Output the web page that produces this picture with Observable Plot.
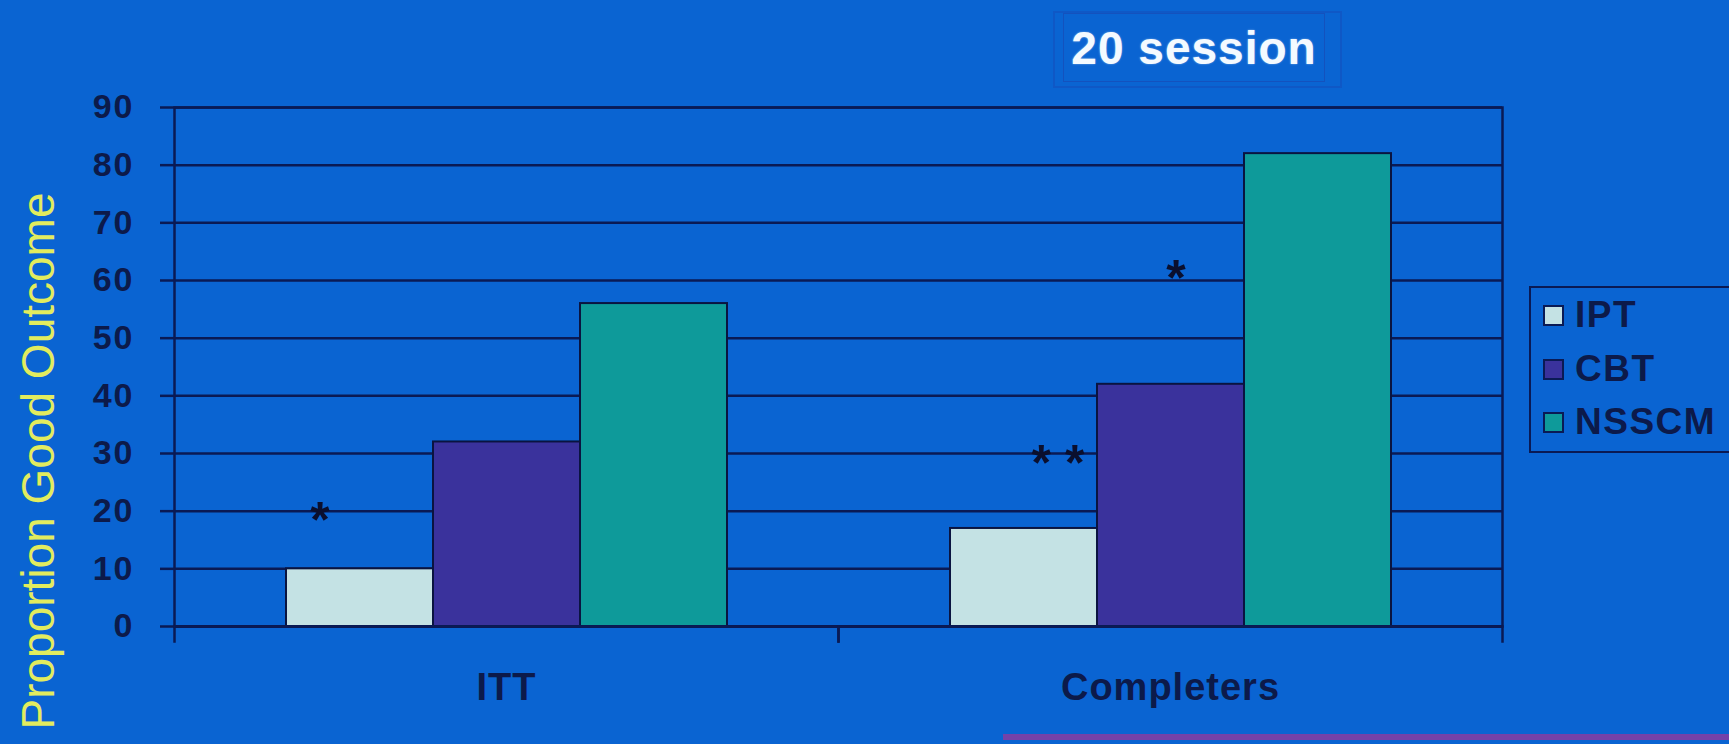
<!DOCTYPE html>
<html>
<head>
<meta charset="utf-8">
<script src="https://cdn.jsdelivr.net/npm/d3@7"></script>
<script src="https://cdn.jsdelivr.net/npm/@observablehq/plot@0.6"></script>
<style>
  html, body {
    margin: 0; padding: 0;
    width: 1729px; height: 744px; overflow: hidden;
    background: #0A64D2;
    font-family: "Liberation Sans", Arial, sans-serif;
  }
  #chart { position: absolute; left: 0; top: 0; }
  #title {
    position: absolute; left: 1053px; top: 11px; width: 289px; height: 77px;
    box-sizing: border-box; border: 2px solid #0F58C6;
  }
  #title .inner {
    position: absolute; left: 8px; top: 0; right: 15px; bottom: 4px;
    border: 1px solid #1352BE;
    color: #F4FAFF; font-weight: bold; font-size: 46px; letter-spacing: 1px;
    display: flex; align-items: center; justify-content: center;
    text-shadow: 0 0 2px rgba(255,255,255,0.5);
  }
  #legend {
    position: absolute; left: 1529px; top: 286px; width: 260px; height: 167px;
    box-sizing: border-box; border: 2.5px solid #0A1A55;
  }
  #legend .item {
    position: absolute; left: 12px; height: 40px;
    display: flex; align-items: center;
    font-weight: bold; font-size: 37px; color: #0C1A4A; letter-spacing: 1.5px;
  }
  #legend .swatch {
    width: 21px; height: 21px; box-sizing: border-box;
    border: 2px solid #0A1A55; margin-right: 11px;
  }
  #footer-line {
    position: absolute; left: 1003px; top: 734px; width: 726px; height: 6px;
    background: #7442A8;
  }
  g[aria-label="y-axis tick label"] text { letter-spacing: 2px; }
  g[aria-label="fx-axis tick label"] text { letter-spacing: 1px; }
</style>
</head>
<body>
<div id="chart"></div>
<div id="title"><div class="inner">20 session</div></div>
<div id="legend"></div>
<div id="footer-line"></div>
<script>
// Groups on the horizontal axis and the three treatments within each group
const groups = ["ITT", "Completers"];
const series = ["IPT", "CBT", "NSSCM"];
const ittValues = [10, 32, 56];
const completerValues = [17, 42, 82];
const seriesColors = ["#C4E2E4", "#3A329C", "#0E9A9A"];
const yTicks = [0, 10, 20, 30, 40, 50, 60, 70, 80, 90];
const yTitle = "Proportion Good Outcome";

// Significance markers
const annGroup = ["ITT", "Completers", "Completers"];
const annSeries = ["IPT", "IPT", "CBT"];
const annValue = [20, 30, 62];
const annText = ["*", "* *", "*"];

const rows = [
  ...series.map((s, i) => ({group: groups[0], series: s, value: ittValues[i]})),
  ...series.map((s, i) => ({group: groups[1], series: s, value: completerValues[i]}))
];

const navy = "#0A1A55";
const labelInk = "#0C1A4A";

// horizontal nudges for the markers, relative to their bar
const annDx = [-40, 34, 5];

const starMarks = annGroup.map((g, i) =>
  Plot.text([i], {
    fx: () => g,
    x: () => annSeries[i],
    y: () => annValue[i],
    text: () => annText[i],
    dx: annDx[i],
    dy: 10,
    fontSize: 50,
    fontWeight: "bold",
    fill: "#0A0F2E"
  })
);

const chart = Plot.plot({
  width: 1729,
  height: 744,
  marginLeft: 173,
  marginRight: 227,
  marginTop: 107,
  marginBottom: 118,
  style: {background: "transparent", fontFamily: "'Liberation Sans', Arial, sans-serif"},
  fx: {domain: groups, padding: 0, label: null},
  x: {domain: series, paddingInner: 0, paddingOuter: 0.75, axis: null},
  y: {domain: [0, 90], label: null},
  color: {domain: series, range: seriesColors},
  marks: [
    Plot.gridY(yTicks, {stroke: navy, strokeOpacity: 1, strokeWidth: 2.5}),
    Plot.barY(rows, {fx: "group", x: "series", y: "value", fill: "series", stroke: "#0A1440", strokeWidth: 2}),
    Plot.ruleY([0], {stroke: navy, strokeWidth: 3}),
    Plot.frame({facet: "super", stroke: navy, strokeWidth: 2.5}),
    Plot.frame({anchor: "left", insetTop: 519, insetBottom: -15, stroke: navy, strokeWidth: 2.5}),
    Plot.frame({anchor: "right", insetTop: 519, insetBottom: -15, stroke: navy, strokeWidth: 2.5}),
    Plot.axisY({ticks: yTicks, tickSize: 14, tickPadding: 26, fontSize: 34, fontWeight: "bold",
      color: labelInk, stroke: navy, strokeWidth: 2.5, label: null}),
    Plot.axisFx({anchor: "bottom", tickSize: 0, tickPadding: 47, fontSize: 38, fontWeight: "bold",
      color: labelInk, label: null}),
    Plot.text([yTitle], {facet: "super", frameAnchor: "left", textAnchor: "middle", rotate: -90,
      dx: -135, dy: 94, fontSize: 46, fill: "#E2EC5E", text: d => d}),
    ...starMarks
  ]
});
document.getElementById("chart").appendChild(chart);

// Legend built from the same series and colours
const legend = d3.select("#legend");
const legendTops = [7, 61, 114];
series.forEach((s, i) => {
  const item = legend.append("div").attr("class", "item").style("top", legendTops[i] + "px");
  item.append("div").attr("class", "swatch").style("background", seriesColors[i]);
  item.append("span").text(s);
});
</script>
</body>
</html>
